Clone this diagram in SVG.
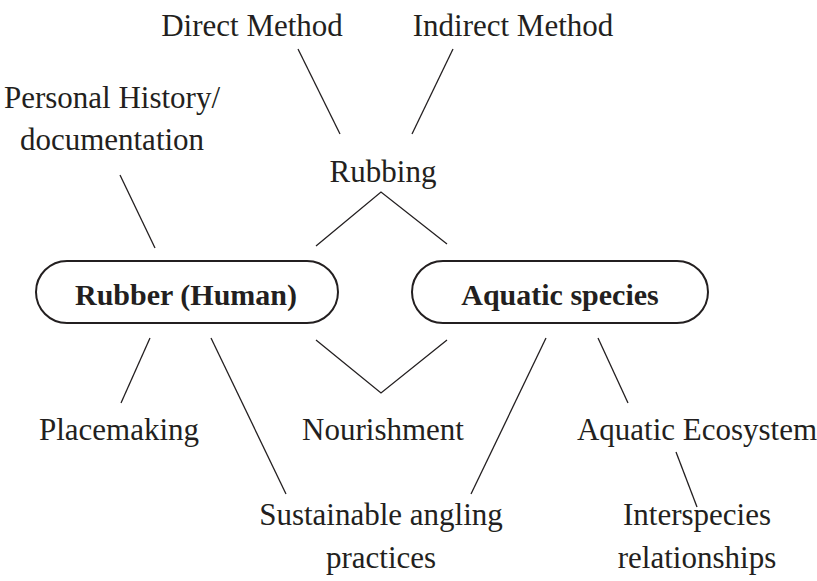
<svg xmlns="http://www.w3.org/2000/svg" width="817" height="581" viewBox="0 0 817 581">
<style>
text{font-family:"Liberation Serif","Times New Roman",serif;font-size:31px;fill:#231f20;text-anchor:middle}
.b{font-weight:bold;font-size:30px}
.pill{fill:#fff;stroke:#231f20;stroke-width:2}
.c line,.c polyline{stroke:#231f20;stroke-width:1.3;fill:none}
</style>
<rect width="817" height="581" fill="#fff"/>
<g class="c" id="connectors">
<line x1="298" y1="49" x2="340" y2="134"/>
<line x1="453" y1="49" x2="412" y2="134"/>
<polyline points="316,246 381,192 447,244"/>
<line x1="120" y1="175" x2="155" y2="248"/>
<line x1="150" y1="338" x2="121" y2="403"/>
<line x1="211" y1="338" x2="286" y2="494"/>
<polyline points="316,340 381,393 447,340"/>
<line x1="546" y1="338" x2="471" y2="494"/>
<line x1="598" y1="338" x2="628" y2="403"/>
<line x1="676" y1="452" x2="697" y2="507"/>
</g>
<g id="rubber"><rect class="pill" x="36" y="261" width="302" height="62" rx="31"/><text class="b" x="186" y="305">Rubber (Human)</text></g>
<g id="aquatic"><rect class="pill" x="412" y="261" width="296" height="62" rx="31"/><text class="b" x="560" y="305">Aquatic species</text></g>
<g id="direct"><text x="252" y="36">Direct Method</text></g>
<g id="indirect"><text x="513" y="36">Indirect Method</text></g>
<g id="personal"><text x="112" y="108">Personal History/</text><text x="112" y="150">documentation</text></g>
<g id="rubbing"><text x="383" y="182">Rubbing</text></g>
<g id="placemaking"><text x="119" y="440">Placemaking</text></g>
<g id="nourishment"><text x="383" y="440">Nourishment</text></g>
<g id="ecosystem"><text x="697" y="440">Aquatic Ecosystem</text></g>
<g id="angling"><text x="381" y="525">Sustainable angling</text><text x="381" y="568">practices</text></g>
<g id="interspecies"><text x="697" y="525">Interspecies</text><text x="697" y="568">relationships</text></g>
</svg>
